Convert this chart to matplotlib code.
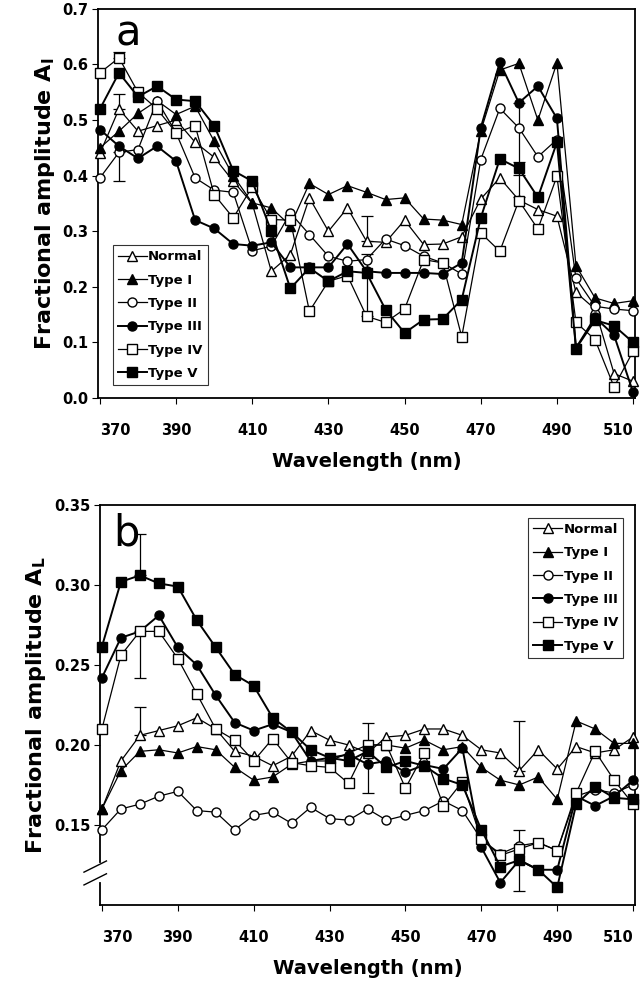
import matplotlib
matplotlib.use("Agg")
import matplotlib.pyplot as plt
from matplotlib.lines import Line2D

FONT = "DejaVu Sans"
plt.rcParams["font.family"] = FONT

# Wavelength grid (nm)
wl = [370, 375, 380, 385, 390, 395, 400, 405, 410, 415, 420, 425, 430, 435, 440,
      445, 450, 455, 460, 465, 470, 475, 480, 485, 490, 495, 500, 505, 510]

series_names = ["Normal", "Type I", "Type II", "Type III", "Type IV", "Type V"]

# Panel a: fractional amplitude A_I
normal_a = [0.44, 0.52, 0.48, 0.49, 0.50, 0.46, 0.433, 0.39, 0.35, 0.228, 0.258, 0.36, 0.30, 0.342, 0.282,
            0.28, 0.32, 0.276, 0.277, 0.29, 0.358, 0.396, 0.356, 0.339, 0.327, 0.19, 0.16, 0.044, 0.03]
type1_a = [0.45, 0.48, 0.512, 0.535, 0.51, 0.525, 0.462, 0.40, 0.351, 0.342, 0.31, 0.386, 0.366, 0.382, 0.37,
           0.357, 0.36, 0.322, 0.32, 0.312, 0.48, 0.59, 0.602, 0.50, 0.603, 0.238, 0.18, 0.17, 0.175]
type2_a = [0.396, 0.442, 0.447, 0.535, 0.477, 0.396, 0.374, 0.37, 0.265, 0.273, 0.333, 0.294, 0.255, 0.246, 0.249,
           0.286, 0.274, 0.255, 0.243, 0.223, 0.429, 0.521, 0.486, 0.434, 0.465, 0.215, 0.165, 0.16, 0.157]
type3_a = [0.483, 0.453, 0.431, 0.453, 0.426, 0.32, 0.305, 0.277, 0.274, 0.28, 0.235, 0.235, 0.235, 0.277, 0.228,
           0.225, 0.225, 0.225, 0.223, 0.243, 0.486, 0.604, 0.531, 0.561, 0.503, 0.09, 0.145, 0.113, 0.01]
type4_a = [0.585, 0.612, 0.55, 0.52, 0.477, 0.49, 0.366, 0.324, 0.38, 0.321, 0.32, 0.156, 0.21, 0.22, 0.147,
           0.136, 0.16, 0.249, 0.243, 0.11, 0.297, 0.264, 0.355, 0.304, 0.399, 0.136, 0.105, 0.02, 0.084]
type5_a = [0.52, 0.585, 0.542, 0.561, 0.537, 0.534, 0.49, 0.409, 0.39, 0.30, 0.197, 0.234, 0.21, 0.228, 0.225,
           0.159, 0.117, 0.141, 0.142, 0.177, 0.324, 0.43, 0.413, 0.361, 0.46, 0.089, 0.14, 0.13, 0.10]

# Panel b: fractional amplitude A_L
normal_b = [0.16, 0.19, 0.206, 0.209, 0.212, 0.217, 0.21, 0.196, 0.193, 0.187, 0.193, 0.209, 0.203, 0.20, 0.195,
            0.205, 0.206, 0.21, 0.21, 0.206, 0.197, 0.195, 0.184, 0.197, 0.185, 0.199, 0.195, 0.197, 0.205]
type1_b = [0.16, 0.184, 0.196, 0.197, 0.195, 0.199, 0.197, 0.186, 0.178, 0.18, 0.188, 0.19, 0.19, 0.195, 0.20,
           0.20, 0.198, 0.203, 0.197, 0.199, 0.186, 0.178, 0.175, 0.18, 0.166, 0.215, 0.21, 0.201, 0.201]
type2_b = [0.147, 0.16, 0.163, 0.168, 0.171, 0.159, 0.158, 0.147, 0.156, 0.158, 0.151, 0.161, 0.154, 0.153, 0.16,
           0.153, 0.156, 0.159, 0.165, 0.159, 0.141, 0.132, 0.137, 0.139, 0.134, 0.168, 0.172, 0.17, 0.175]
type3_b = [0.242, 0.267, 0.271, 0.281, 0.261, 0.25, 0.231, 0.214, 0.209, 0.213, 0.208, 0.19, 0.192, 0.194, 0.188,
           0.19, 0.183, 0.1875, 0.185, 0.198, 0.136, 0.114, 0.128, 0.122, 0.122, 0.168, 0.162, 0.168, 0.178]
type4_b = [0.21, 0.256, 0.271, 0.271, 0.254, 0.232, 0.21, 0.203, 0.19, 0.204, 0.189, 0.187, 0.186, 0.176, 0.20,
           0.20, 0.173, 0.195, 0.162, 0.177, 0.141, 0.131, 0.135, 0.139, 0.134, 0.17, 0.196, 0.178, 0.163]
type5_b = [0.2615, 0.302, 0.306, 0.301, 0.299, 0.278, 0.261, 0.244, 0.237, 0.217, 0.208, 0.197, 0.192, 0.19, 0.196,
           0.186, 0.19, 0.187, 0.179, 0.175, 0.147, 0.124, 0.128, 0.122, 0.111, 0.163, 0.174, 0.167, 0.166]

# error bars: (series index, wavelength, lower err, upper err)
err_a = [(0, 375, 0.0, 0.027), (2, 375, 0.052, 0.0), (4, 375, 0.0, 0.01),
         (0, 440, 0.0, 0.045), (4, 440, 0.0, 0.112), (2, 480, 0.125, 0.045), (5, 480, 0.011, 0.011)]
err_b = [(5, 380, 0.0, 0.026), (3, 380, 0.029, 0.0), (0, 380, 0.0, 0.018),
         (4, 440, 0.03, 0.014), (0, 480, 0.0, 0.031), (3, 480, 0.019, 0.019)]

styles = [("^", "white"), ("^", "black"), ("o", "white"),
          ("o", "black"), ("s", "white"), ("s", "black")]
widths = [0.9, 0.9, 0.9, 1.4, 0.9, 1.4]

xticks = [370, 390, 410, 430, 450, 470, 490, 510]

fig = plt.figure(figsize=(6.42, 9.9), dpi=100)
ax_a = fig.add_axes([0.1527, 0.598, 0.8364, 0.393])
ax_b = fig.add_axes([0.1558, 0.0859, 0.8333, 0.404])


def draw_panel(ax, data, errs):
    handles = []
    for i, vals in enumerate(data):
        m, fc = styles[i]
        ln, = ax.plot(wl, vals, color="black", lw=widths[i], marker=m, markersize=6.5,
                      markerfacecolor=fc, markeredgecolor="black", markeredgewidth=1.0,
                      clip_on=False, zorder=3 + i * 0.1)
        handles.append(ln)
    for si, w, lo, hi in errs:
        y = data[si][wl.index(w)]
        ax.errorbar([w], [y], yerr=[[lo], [hi]], fmt="none", ecolor="black",
                    elinewidth=0.9, capsize=4, capthick=0.9, zorder=2)
    ax.set_xlim(369.5, 510.5)
    ax.set_xticks(xticks)
    labels = ax.set_xticklabels([str(t) for t in xticks], fontsize=10.5, fontweight="bold")
    # end labels sit inside the frame, as in the original figure
    labels[0].set_horizontalalignment("left")
    labels[-1].set_horizontalalignment("right")
    ax.tick_params(direction="out", length=4, width=0.8, pad=14)
    ax.tick_params(axis="y", pad=3)
    for s in ax.spines.values():
        s.set_linewidth(1.3)
    ax.set_xlabel("Wavelength (nm)", fontsize=14, fontweight="bold", labelpad=10)
    return handles


def add_legend(ax, handles, **kw):
    leg = ax.legend(handles, series_names, prop={"family": FONT, "weight": "bold", "size": 9.5},
                    frameon=True, fancybox=False, edgecolor="black", handlelength=2.2,
                    handletextpad=0.1, borderpad=0.4, labelspacing=0.78, borderaxespad=0, **kw)
    leg.get_frame().set_linewidth(0.8)


h = draw_panel(ax_a, [normal_a, type1_a, type2_a, type3_a, type4_a, type5_a], err_a)
ax_a.set_ylim(0.0, 0.7)
ax_a.set_yticks([0.0, 0.1, 0.2, 0.3, 0.4, 0.5, 0.6, 0.7])
ax_a.set_yticklabels(["0.0", "0.1", "0.2", "0.3", "0.4", "0.5", "0.6", "0.7"],
                     fontsize=10.5, fontweight="bold")
ax_a.set_ylabel("Fractional amplitude A$_\\mathbf{I}$", fontsize=16, fontweight="bold", labelpad=4)
ax_a.text(0.033, 0.99, "a", transform=ax_a.transAxes, fontsize=30, va="top", ha="left")
add_legend(ax_a, h, loc="lower left", bbox_to_anchor=(0.027, 0.033))

h = draw_panel(ax_b, [normal_b, type1_b, type2_b, type3_b, type4_b, type5_b], err_b)
ax_b.set_ylim(0.10, 0.35)
ax_b.set_yticks([0.15, 0.20, 0.25, 0.30, 0.35])
ax_b.set_yticklabels(["0.15", "0.20", "0.25", "0.30", "0.35"], fontsize=10.5, fontweight="bold")
ax_b.set_ylabel("Fractional amplitude A$_\\mathbf{L}$", fontsize=16, fontweight="bold", labelpad=4)
ax_b.text(0.025, 0.98, "b", transform=ax_b.transAxes, fontsize=30, va="top", ha="left")
add_legend(ax_b, h, loc="upper right", bbox_to_anchor=(0.978, 0.968))

# axis break on panel b's left spine
ax_b.spines["left"].set_visible(False)
tr = ax_b.get_yaxis_transform()
ax_b.add_line(Line2D([0, 0], [0.127, 0.35], transform=tr, color="black", lw=1.3, clip_on=False))
ax_b.add_line(Line2D([0, 0], [0.10, 0.114], transform=tr, color="black", lw=1.3, clip_on=False))
for yb in (0.1245, 0.1165):
    ax_b.add_line(Line2D([-0.03, 0.012], [yb - 0.004, yb + 0.003], transform=tr,
                         color="black", lw=1.0, clip_on=False))

plt.savefig("out.png", dpi=100)
plt.close(fig)
